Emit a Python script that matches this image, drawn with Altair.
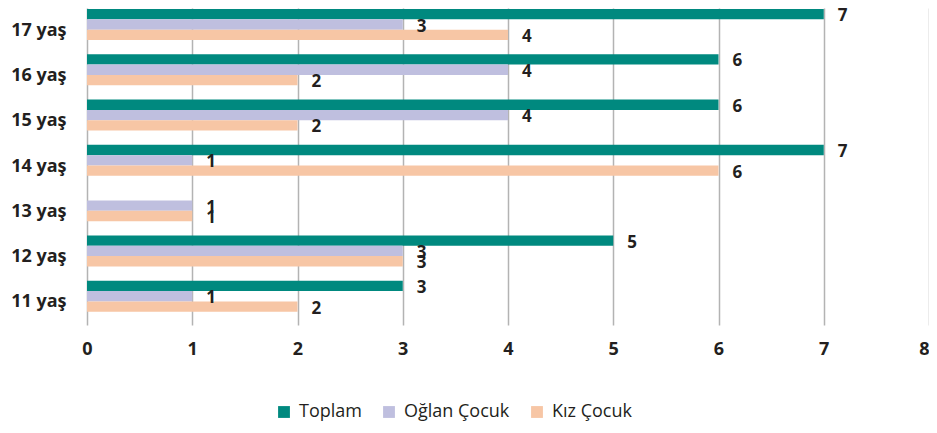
import altair as alt
import pandas as pd

ages = ["17 yaş", "16 yaş", "15 yaş", "14 yaş", "13 yaş", "12 yaş", "11 yaş"]
series = ["Toplam", "Oğlan Çocuk", "Kız Çocuk"]
toplam = [7, 6, 6, 7, None, 5, 3]
oglan = [3, 4, 4, 1, 1, 3, 1]
kiz = [4, 2, 2, 6, 1, 3, 2]
colors = ["#00897f", "#bfbfdf", "#f7c6a5"]
x_ticks = [0, 1, 2, 3, 4, 5, 6, 7, 8]

rows = []
for s, vals in zip(series, [toplam, oglan, kiz]):
    for a, v in zip(ages, vals):
        if v is not None:
            rows.append({"age": a, "series": s, "value": v})
df = pd.DataFrame(rows)

FONT = "Open Sans"
TXT = "#231f20"

base = alt.Chart(df).encode(
    y=alt.Y(
        "age:N",
        sort=ages,
        title=None,
        scale=alt.Scale(paddingInner=0, paddingOuter=0),
        axis=alt.Axis(
            domain=False, ticks=False, grid=False, labelPadding=21,
            labelFont=FONT, labelFontSize=18, labelFontWeight="bold", labelColor=TXT,
        ),
    ),
    yOffset=alt.YOffset(
        "series:N", sort=series,
        scale=alt.Scale(range=[1, 32], paddingInner=0, paddingOuter=0),
    ),
    x=alt.X(
        "value:Q",
        title=None,
        scale=alt.Scale(domain=[0, 8], nice=False),
        axis=alt.Axis(
            values=x_ticks, domain=False, ticks=False, grid=True,
            gridColor="#b3b3b3", gridWidth=1.5, labelPadding=15,
            labelFont=FONT, labelFontSize=18, labelFontWeight="bold", labelColor=TXT,
            labelFlush=False,
            labelAlign=alt.ExprRef(expr="datum.value == 8 ? 'right' : 'center'"),
        ),
    ),
)

bars = base.mark_bar().encode(
    color=alt.Color(
        "series:N", sort=series, title=None,
        scale=alt.Scale(domain=series, range=colors),
        legend=alt.Legend(
            orient="none", direction="horizontal", legendX=188, legendY=395,
            symbolType="square", symbolSize=140, symbolStrokeWidth=0,
            labelFont=FONT, labelFontSize=18, labelColor=TXT,
            columnPadding=18, symbolOffset=0, labelOffset=6,
        ),
    )
)

labels = base.mark_text(
    align="left", baseline="middle", dx=14, dy=2,
    font=FONT, fontSize=17, fontWeight="bold", color=TXT,
).encode(text="value:Q")

chart = (
    alt.layer(bars, labels)
    .properties(
        width=842, height=317,
        autosize=alt.AutoSizeParams(type="none"),
        padding={"left": 79, "top": 0, "right": 0, "bottom": 100},
    )
    .configure_view(stroke=None)
)

chart.save("out.html", embed_options={"renderer": "svg", "actions": False})
